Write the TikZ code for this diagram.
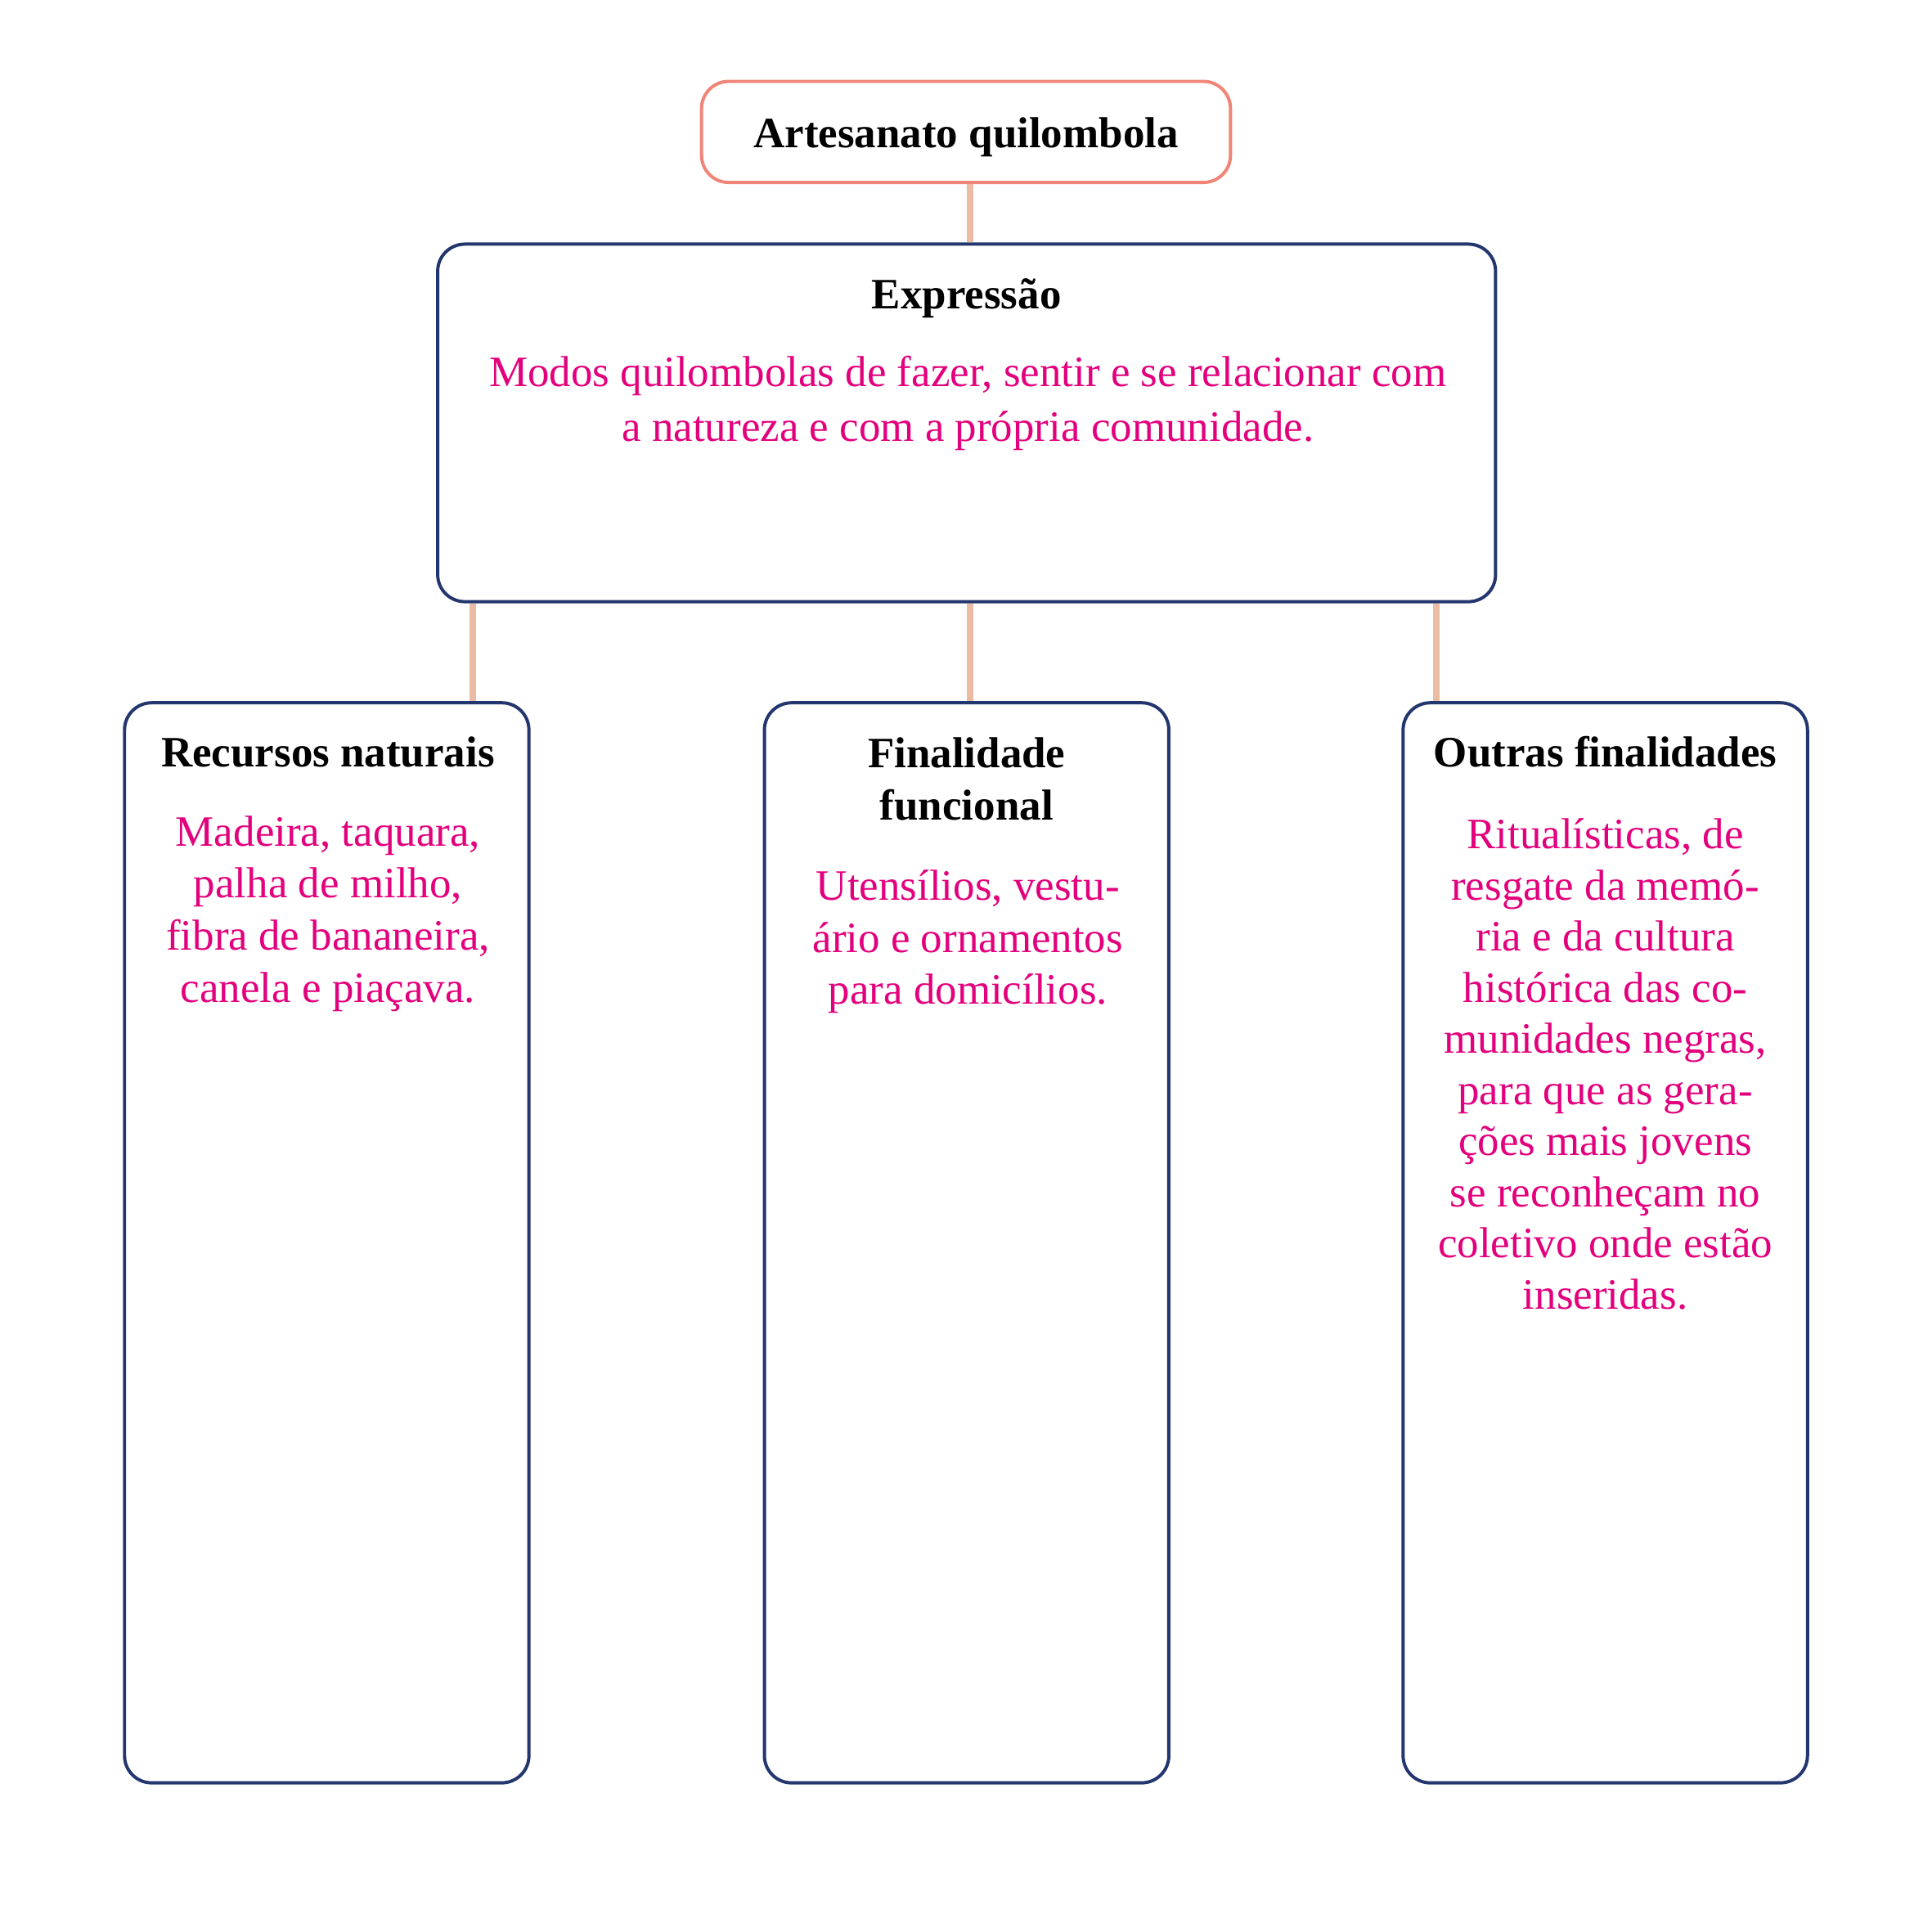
\documentclass[tikz,border=0pt]{standalone}
\usepackage{fontspec}
\setmainfont{Liberation Serif}
\usetikzlibrary{positioning}
\definecolor{marinho}{HTML}{24366E}
\definecolor{salmao}{HTML}{EF8477}
\definecolor{pessego}{HTML}{EBBBA4}
\definecolor{rosa}{HTML}{E3007D}
\tikzset{caixa/.style={draw=marinho,line width=.75pt,rounded corners=2.2mm,fill=white,inner sep=0pt},
  titulo/.style={font=\bfseries,align=center},
  texto/.style={text=rosa,align=center,font=\fontsize{10}{12}\selectfont},
  ligacao/.style={draw=pessego,line width=1.5pt}}

\begin{document}
\begin{tikzpicture}
\useasboundingbox (0,0) rectangle (15.67,-15.67);%%
%%CAIXAS
\node[caixa,draw=salmao,minimum width=4.29cm,minimum height=.82cm] (topo) at (7.835,-1.07) {};%%
\node[caixa,minimum width=8.58cm,minimum height=2.9cm] (expr) at (7.84,-3.43) {};%%
\node[caixa,minimum width=3.28cm,minimum height=8.76cm] (rec) at (2.65,-10.08) {};%%
\node[caixa,minimum width=3.28cm,minimum height=8.76cm] (fin) at (7.84,-10.08) {};%%
\node[caixa,minimum width=3.28cm,minimum height=8.76cm] (out) at (13.02,-10.08) {};%%
%%TITULOS
\node[titulo] (topotit) at (7.835,-1.11) {Artesanato quilombola};%%
\node[titulo] (exprtit) at (7.84,-2.42) {Expressão};%%
\node[titulo] (rectit) at (2.66,-6.10) {Recursos naturais};%%
\node[titulo] (fintit) at (7.84,-6.32) {Finalidade\\funcional};%%
\node[titulo] (outtit) at (13.02,-6.10) {Outras finalidades};%%
%%TEXTOS
\node[texto,font=\fontsize{10}{12.5}\selectfont] (exprtxt) at (7.85,-3.27) {Modos quilombolas de fazer, sentir e se relacionar com\\a natureza e com a própria comunidade.};%%
\node[texto] (rectxt) at (2.66,-7.41) {Madeira, taquara,\\palha de milho,\\fibra de bananeira,\\canela e piaçava.};%%
\node[texto] (fintxt) at (7.85,-7.64) {Utensílios, vestu-\\ário e ornamentos\\para domicílios.};%%
\node[texto,font=\fontsize{10}{11.8}\selectfont] (outtxt) at (13.02,-8.63) {Ritualísticas, de\\resgate da memó-\\ria e da cultura\\histórica das co-\\munidades negras,\\para que as gera-\\ções mais jovens\\se reconheçam no\\coletivo onde estão\\inseridas.};%%
%%LIGACOES
\coordinate (lk) at ([xshift=3mm]expr.south west);%%
\coordinate (rk) at ([xshift=2.8mm]out.north west);%%
\coordinate (tk) at ([xshift=.3mm]topo.south);%%
\draw[ligacao] (tk) -- (tk |- expr.north);%%
\draw[ligacao] (lk) -- (lk |- rec.north);%%
\draw[ligacao] ([xshift=.3mm]expr.south) -- ([xshift=.3mm]fin.north);%%
\draw[ligacao] (rk |- expr.south) -- (rk);%%
\end{tikzpicture}
\end{document}
